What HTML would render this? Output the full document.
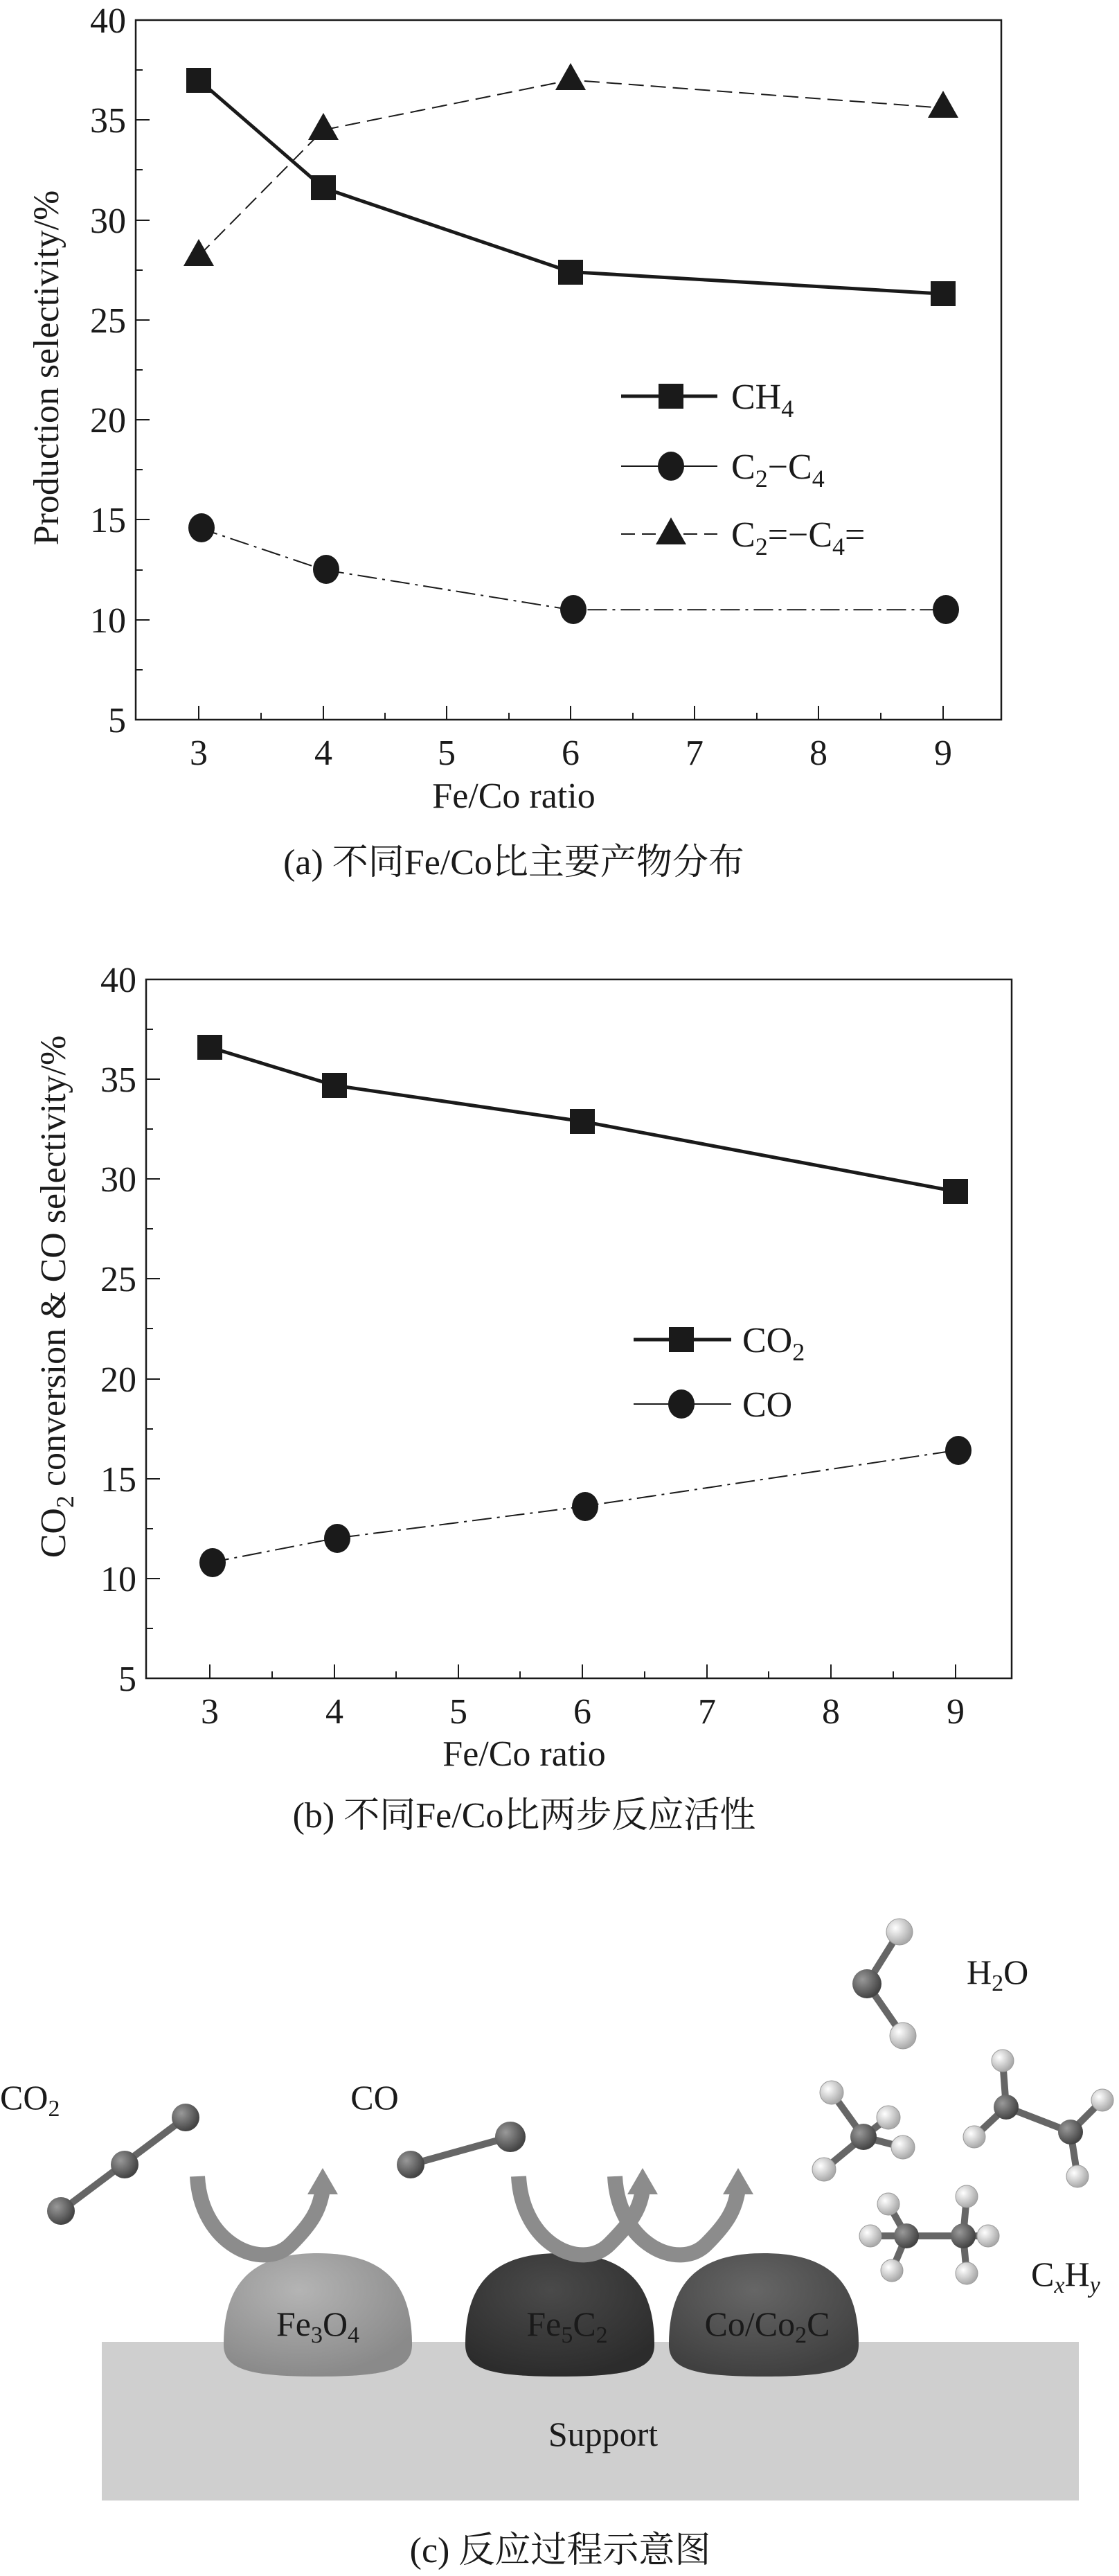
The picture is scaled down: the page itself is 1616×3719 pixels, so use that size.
<!DOCTYPE html>
<html><head><meta charset="utf-8"><style>
html,body{margin:0;padding:0;background:#fff}
svg{display:block}
text{font-family:"Liberation Serif","Noto Serif CJK SC","Noto Sans CJK SC",serif;fill:#1a1a1a}
</style></head><body>
<svg width="1616" height="3719" viewBox="0 0 1616 3719" xmlns="http://www.w3.org/2000/svg">
<defs>
<radialGradient id="gL" cx="40%" cy="30%" r="70%"><stop offset="0" stop-color="#b4b4b4"/><stop offset="1" stop-color="#8a8a8a"/></radialGradient>
<radialGradient id="gD" cx="45%" cy="30%" r="70%"><stop offset="0" stop-color="#4a4a4a"/><stop offset="1" stop-color="#2c2c2c"/></radialGradient>
<radialGradient id="gM" cx="45%" cy="30%" r="70%"><stop offset="0" stop-color="#666"/><stop offset="1" stop-color="#404040"/></radialGradient>
<radialGradient id="aC" cx="35%" cy="35%" r="65%"><stop offset="0" stop-color="#999"/><stop offset="1" stop-color="#444"/></radialGradient>
<radialGradient id="aH" cx="35%" cy="35%" r="65%"><stop offset="0" stop-color="#fff"/><stop offset="1" stop-color="#aaa"/></radialGradient>
</defs>

<!-- ===== Chart A ===== -->
<g stroke="#1a1a1a" fill="none">
<rect x="196" y="29" width="1250" height="1010" stroke-width="2.5"/>
<!-- y ticks -->
<path stroke-width="2" d="M196 29h20M196 101h10M196 173h20M196 245h10M196 318h20M196 390h10M196 462h20M196 534h10M196 606h20M196 678h10M196 750h20M196 823h10M196 895h20M196 967h10"/>
<!-- x ticks -->
<path stroke-width="2" d="M287 1039v-20M377 1039v-10M467 1039v-20M556 1039v-10M645 1039v-20M735 1039v-10M824 1039v-20M914 1039v-10M1003 1039v-20M1093 1039v-10M1182 1039v-20M1272 1039v-10M1362 1039v-20"/>
</g>
<g font-size="52" text-anchor="end">
<text x="182" y="47">40</text><text x="182" y="191">35</text><text x="182" y="336">30</text><text x="182" y="480">25</text><text x="182" y="624">20</text><text x="182" y="768">15</text><text x="182" y="913">10</text><text x="182" y="1057">5</text>
</g>
<g font-size="52" text-anchor="middle">
<text x="287" y="1104">3</text><text x="467" y="1104">4</text><text x="645" y="1104">5</text><text x="824" y="1104">6</text><text x="1003" y="1104">7</text><text x="1182" y="1104">8</text><text x="1362" y="1104">9</text>
<text x="742" y="1166">Fe/Co ratio</text>
<text x="742" y="1262">(a) 不同Fe/Co比主要产物分布</text>
<text transform="translate(84,531) rotate(-90)">Production selectivity/%</text>
</g>
<!-- series A -->
<polyline points="287,115.5 467,271.3 824,392.5 1362,424.3" fill="none" stroke="#1a1a1a" stroke-width="5"/>
<polyline points="287,369.4 467,187.6 824,115.5 1362,155.9" fill="none" stroke="#1a1a1a" stroke-width="2" stroke-dasharray="22,10"/>
<polyline points="287,762 467,822.5 824,880.3 1362,880.3" fill="none" stroke="#1a1a1a" stroke-width="2" stroke-dasharray="28,8,4,8"/>
<g fill="#1a1a1a">
<rect x="269" y="98" width="36" height="36"/><rect x="449" y="253" width="36" height="36"/><rect x="806" y="375" width="36" height="36"/><rect x="1344" y="406" width="36" height="36"/>
<polygon points="287,345 265,384 309,384"/><polygon points="467,163 445,202 489,202"/><polygon points="824,91 802,130 846,130"/><polygon points="1362,131 1340,170 1384,170"/>
<ellipse cx="291" cy="762" rx="19" ry="21"/><ellipse cx="471" cy="822" rx="19" ry="21"/><ellipse cx="828" cy="880" rx="19" ry="21"/><ellipse cx="1366" cy="880" rx="19" ry="21"/>
</g>
<!-- legend A -->
<line x1="897" y1="572" x2="1036" y2="572" stroke="#1a1a1a" stroke-width="5"/>
<rect x="951" y="554" width="36" height="36" fill="#1a1a1a"/>
<line x1="897" y1="673" x2="1036" y2="673" stroke="#1a1a1a" stroke-width="2"/>
<ellipse cx="969" cy="673" rx="19" ry="21" fill="#1a1a1a"/>
<line x1="897" y1="771" x2="1036" y2="771" stroke="#1a1a1a" stroke-width="2" stroke-dasharray="20,10"/>
<polygon points="969,747 947,786 991,786" fill="#1a1a1a"/>
<g font-size="52">
<text x="1056" y="590">CH<tspan font-size="36" dy="12">4</tspan></text>
<text x="1056" y="691">C<tspan font-size="36" dy="12">2</tspan><tspan dy="-12">−C</tspan><tspan font-size="36" dy="12">4</tspan></text>
<text x="1056" y="789">C<tspan font-size="36" dy="12">2</tspan><tspan dy="-12">=−C</tspan><tspan font-size="36" dy="12">4</tspan><tspan dy="-12">=</tspan></text>
</g>

<!-- ===== Chart B ===== -->
<g stroke="#1a1a1a" fill="none">
<rect x="211" y="1414" width="1250" height="1009" stroke-width="2.5"/>
<path stroke-width="2" d="M211 1414h20M211 1486h10M211 1558h20M211 1630h10M211 1702h20M211 1774h10M211 1846h20M211 1918h10M211 1991h20M211 2063h10M211 2135h20M211 2207h10M211 2279h20M211 2351h10"/>
<path stroke-width="2" d="M303 2423v-20M393 2423v-10M483 2423v-20M572 2423v-10M662 2423v-20M751 2423v-10M841 2423v-20M931 2423v-10M1021 2423v-20M1110 2423v-10M1200 2423v-20M1290 2423v-10M1380 2423v-20"/>
</g>
<g font-size="52" text-anchor="end">
<text x="197" y="1432">40</text><text x="197" y="1576">35</text><text x="197" y="1720">30</text><text x="197" y="1864">25</text><text x="197" y="2009">20</text><text x="197" y="2153">15</text><text x="197" y="2297">10</text><text x="197" y="2441">5</text>
</g>
<g font-size="52" text-anchor="middle">
<text x="303" y="2488">3</text><text x="483" y="2488">4</text><text x="662" y="2488">5</text><text x="841" y="2488">6</text><text x="1021" y="2488">7</text><text x="1200" y="2488">8</text><text x="1380" y="2488">9</text>
<text x="757" y="2549">Fe/Co ratio</text>
<text x="757" y="2638">(b) 不同Fe/Co比两步反应活性</text>
<text transform="translate(94,1872) rotate(-90)">CO<tspan font-size="36" dy="12">2</tspan><tspan dy="-12"> conversion &amp; CO selectivity/%</tspan></text>
</g>
<polyline points="303,1512 483,1567 841,1619 1380,1720" fill="none" stroke="#1a1a1a" stroke-width="5"/>
<polyline points="303,2256 483,2221 841,2175 1380,2094" fill="none" stroke="#1a1a1a" stroke-width="2" stroke-dasharray="28,8,4,8"/>
<g fill="#1a1a1a">
<rect x="285" y="1494" width="36" height="36"/><rect x="465" y="1549" width="36" height="36"/><rect x="823" y="1601" width="36" height="36"/><rect x="1362" y="1702" width="36" height="36"/>
<ellipse cx="307" cy="2256" rx="19" ry="21"/><ellipse cx="487" cy="2221" rx="19" ry="21"/><ellipse cx="845" cy="2175" rx="19" ry="21"/><ellipse cx="1384" cy="2094" rx="19" ry="21"/>
</g>
<line x1="915" y1="1934" x2="1056" y2="1934" stroke="#1a1a1a" stroke-width="5"/>
<rect x="966" y="1916" width="36" height="36" fill="#1a1a1a"/>
<line x1="915" y1="2027" x2="1056" y2="2027" stroke="#1a1a1a" stroke-width="2"/>
<ellipse cx="984" cy="2027" rx="19" ry="21" fill="#1a1a1a"/>
<g font-size="52">
<text x="1072" y="1952">CO<tspan font-size="36" dy="12">2</tspan></text>
<text x="1072" y="2045">CO</text>
</g>

<!-- ===== Diagram C ===== -->
<rect x="147" y="3381" width="1411" height="229" fill="#cfcfcf"/>
<path d="M323 3385 C323 3300 360 3253 459 3253 C558 3253 595 3300 595 3385 C595 3420 560 3431 459 3431 C358 3431 323 3420 323 3385Z" fill="url(#gL)"/>
<path d="M672 3385 C672 3300 709 3253 808 3253 C907 3253 945 3300 945 3385 C945 3420 910 3431 808 3431 C707 3431 672 3420 672 3385Z" fill="url(#gD)"/>
<path d="M966 3385 C966 3300 1003 3253 1103 3253 C1203 3253 1240 3300 1240 3385 C1240 3420 1205 3431 1103 3431 C1001 3431 966 3420 966 3385Z" fill="url(#gM)"/>
<!-- arrows -->
<g fill="none" stroke="#8c8c8c" stroke-width="22">
<path d="M285 3142 C290 3240 380 3280 420 3240 C450 3210 462 3190 466 3160"/>
<path d="M749 3142 C754 3240 840 3280 880 3240 C910 3210 925 3190 928 3160"/>
<path d="M888 3142 C893 3240 980 3280 1020 3240 C1050 3210 1062 3190 1066 3160"/>
</g>
<g fill="#8c8c8c">
<polygon points="466,3130 444,3168 488,3168"/>
<polygon points="928,3130 906,3168 950,3168"/>
<polygon points="1066,3130 1044,3168 1088,3168"/>
</g>
<!-- molecules -->
<g stroke="#666" stroke-width="10">
<line x1="88" y1="3192" x2="268" y2="3057"/>
<line x1="593" y1="3125" x2="737" y2="3085"/>
<line x1="1252" y1="2864" x2="1299" y2="2789"/><line x1="1252" y1="2864" x2="1304" y2="2939"/>
<line x1="1247" y1="3085" x2="1201" y2="3021"/><line x1="1247" y1="3085" x2="1283" y2="3057"/><line x1="1247" y1="3085" x2="1304" y2="3100"/><line x1="1247" y1="3085" x2="1190" y2="3132"/>
<line x1="1453" y1="3042" x2="1546" y2="3078"/><line x1="1453" y1="3042" x2="1448" y2="2975"/><line x1="1453" y1="3042" x2="1407" y2="3085"/><line x1="1546" y1="3078" x2="1592" y2="3032"/><line x1="1546" y1="3078" x2="1556" y2="3142"/>
<line x1="1309" y1="3228" x2="1391" y2="3228"/><line x1="1309" y1="3228" x2="1283" y2="3182"/><line x1="1309" y1="3228" x2="1257" y2="3228"/><line x1="1309" y1="3228" x2="1288" y2="3278"/><line x1="1391" y1="3228" x2="1396" y2="3171"/><line x1="1391" y1="3228" x2="1427" y2="3228"/><line x1="1391" y1="3228" x2="1396" y2="3282"/>
</g>
<g fill="url(#aC)">
<circle cx="88" cy="3192" r="20"/><circle cx="180" cy="3125" r="20"/><circle cx="268" cy="3057" r="20"/>
<circle cx="593" cy="3125" r="20"/><circle cx="737" cy="3085" r="22"/>
<circle cx="1252" cy="2864" r="21"/><circle cx="1247" cy="3085" r="19"/><circle cx="1453" cy="3042" r="18"/><circle cx="1546" cy="3078" r="18"/><circle cx="1309" cy="3228" r="18"/><circle cx="1391" cy="3228" r="18"/>
</g>
<g fill="url(#aH)" stroke="#999" stroke-width="1">
<circle cx="1299" cy="2789" r="19"/><circle cx="1304" cy="2939" r="19"/>
<circle cx="1201" cy="3021" r="17"/><circle cx="1283" cy="3057" r="17"/><circle cx="1304" cy="3100" r="17"/><circle cx="1190" cy="3132" r="17"/>
<circle cx="1448" cy="2975" r="16"/><circle cx="1407" cy="3085" r="16"/><circle cx="1592" cy="3032" r="16"/><circle cx="1556" cy="3142" r="16"/>
<circle cx="1283" cy="3182" r="16"/><circle cx="1257" cy="3228" r="16"/><circle cx="1288" cy="3278" r="16"/><circle cx="1396" cy="3171" r="16"/><circle cx="1427" cy="3228" r="16"/><circle cx="1396" cy="3282" r="16"/>
</g>
<g font-size="50">
<text x="0" y="3045">CO<tspan font-size="34" dy="10">2</tspan></text>
<text x="541" y="3045" text-anchor="middle">CO</text>
<text x="1396" y="2864">H<tspan font-size="34" dy="10">2</tspan><tspan dy="-10">O</tspan></text>
<text x="1489" y="3300">C<tspan font-size="34" dy="10" font-style="italic">x</tspan><tspan dy="-10">H</tspan><tspan font-size="34" dy="10" font-style="italic">y</tspan></text>
<text x="459" y="3372" text-anchor="middle">Fe<tspan font-size="34" dy="10">3</tspan><tspan dy="-10">O</tspan><tspan font-size="34" dy="10">4</tspan></text>
<text x="819" y="3372" text-anchor="middle">Fe<tspan font-size="34" dy="10">5</tspan><tspan dy="-10">C</tspan><tspan font-size="34" dy="10">2</tspan></text>
<text x="1108" y="3372" text-anchor="middle">Co/Co<tspan font-size="34" dy="10">2</tspan><tspan dy="-10">C</tspan></text>
<text x="871" y="3531" text-anchor="middle">Support</text>
<text x="809" y="3699" text-anchor="middle" font-size="52">(c) 反应过程示意图</text>
</g>
</svg>
</body></html>
